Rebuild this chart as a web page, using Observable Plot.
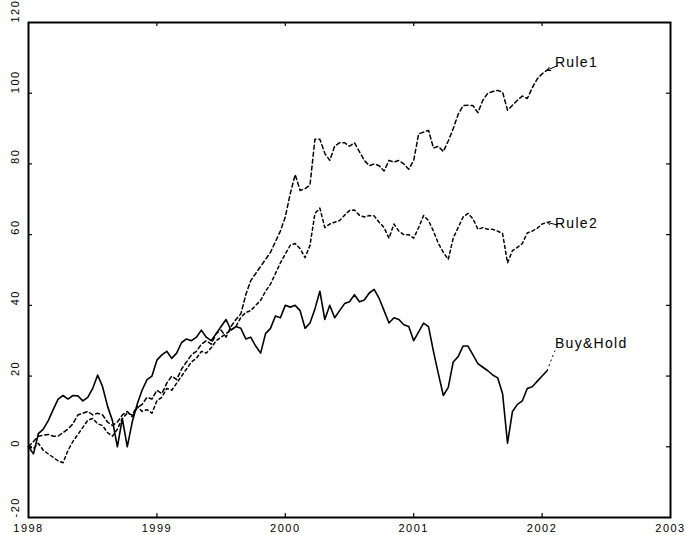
<!DOCTYPE html>
<html><head><meta charset="utf-8">
<script src="https://cdn.jsdelivr.net/npm/d3@7"></script>
<script src="https://cdn.jsdelivr.net/npm/@observablehq/plot@0.6"></script>
<style>
body{margin:0;background:#fff}
svg{font-family:"Liberation Sans",Arial,sans-serif}
</style>
</head><body><div id="chart"></div>
<script>
// biweekly observations starting at 1998.0
const startYear = 1998;
const stepYears = 1 / 26;
const seriesNames = ["Buy&Hold", "Rule1", "Rule2"];
const buyHold = [0,-2,3.7,5,7.4,10.5,13.5,14.5,13.5,14.5,14.4,13,14,16.5,20.3,17,11.5,7.4,0,8,0,7,12,16,19,20,24.5,26,27,25,26.5,29.5,30.5,30,31,33,31,30,32,34,36,33,34,33.5,30.5,31,28.5,26.5,32,33.5,37,36.5,40,39.5,40,38.5,33.5,35,39,44,36,40,36.5,38.5,40.5,41,43,41,41.5,43.5,44.5,42,38.5,35,36.5,36,34.5,34,30,32.5,35,34,27,20.6,14.5,16.8,24,25.5,28.5,28.5,26,23.5,22.5,21.5,20.3,19.5,15,1,10,12,13,16.5,17,18.5,20,21.5];
const rule1 = [0,1.5,3,3.3,3.5,3,3,4,5,6.5,9,9.5,10,9,9.5,9,7,6,7,9,10,8.5,11,12,14,13.5,16,15,18,20,19,22,24,26,27,29,30,29,32,33,31,34,36,37.6,43,47,49,51,53,55,58,61,65,71.6,77,72.5,73,74,87,87,83,81,85,86,86,85,86,83.5,81,79.5,80,79.5,78,81,80.5,81,80,78.5,81,88.5,89,89.5,84.5,85,83.5,86.5,90,94,96.5,96.6,96.5,94.5,98,100,100.5,100.8,100.3,95.2,96.6,98,99.2,98.5,101.5,104,105.5,106.5];
const rule2 = [0,-0.5,1,-1,-2,-3,-4,-4.5,-1,1.5,3.5,5.5,7.5,8,6.5,6,4,3,5,8,9.5,9,11.5,10,10.5,9.5,13,14,16.5,16,18,20,22,24,25,27,26.5,28,30,31,32,33,34,36.6,38,38.5,40,41.4,44,46,49,52,54.5,57,57.5,56,53.5,57,66,67.5,62,63,63.5,64,65.5,66.8,67,65.5,65,65.4,65.3,63.5,62,59,63,61,60,60,59,62,65.4,64,61,57.5,55,53,59,62,65,66,64.5,61.5,62,61.5,61.5,61,60.3,52,55.5,56.4,57.5,60.5,61,61.8,63,63.5];
const xTicks = [1998, 1999, 2000, 2001, 2002, 2003];
const yTicks = [-20, 0, 20, 40, 60, 80, 100, 120];
const labelYear = 2002.1;
const labelValues = [29.2, 108.8, 63.2];

const toRows = (vals, name) => vals.map((v, i) => ({date: startYear + i * stepYears, value: v, series: name}));
const bh = toRows(buyHold, seriesNames[0]);
const r1 = toRows(rule1, seriesNames[1]);
const r2 = toRows(rule2, seriesNames[2]);
const labels = seriesNames.map((s, i) => ({date: labelYear, value: labelValues[i], text: s}));
const last = arr => arr[arr.length - 1];

const W = 684, H = 535, mL = 28, mR = 14, mT = 22, mB = 18;
const innerW = W - mL - mR, innerH = H - mT - mB;
const tickLen = 4;

const chart = Plot.plot({
  width: W, height: H,
  marginLeft: mL, marginRight: mR, marginTop: mT, marginBottom: mB,
  x: {domain: [1998, 2003], axis: null},
  y: {domain: [-20, 120], axis: null},
  marks: [
    Plot.tickX(xTicks.slice(1, -1), {x: d => d, stroke: "black", strokeWidth: 1.2, insetTop: innerH - tickLen}),
    Plot.tickX(xTicks.slice(1, -1), {x: d => d, stroke: "black", strokeWidth: 1.2, insetBottom: innerH - tickLen}),
    Plot.tickY(yTicks.slice(1, -1), {y: d => d, stroke: "black", strokeWidth: 1.2, insetRight: innerW - tickLen}),
    Plot.tickY(yTicks.slice(1, -1), {y: d => d, stroke: "black", strokeWidth: 1.2, insetLeft: innerW - tickLen}),
    Plot.line(r1, {x: "date", y: "value", stroke: "black", strokeWidth: 1.5, strokeDasharray: "4,3"}),
    Plot.line(r2, {x: "date", y: "value", stroke: "black", strokeWidth: 1.5, strokeDasharray: "3,3"}),
    Plot.line(bh, {x: "date", y: "value", stroke: "black", strokeWidth: 1.6}),
    Plot.arrow([0], {x1: labelYear + 0.02, y1: labelValues[1] - 1, x2: last(r1).date, y2: last(r1).value, stroke: "black", strokeWidth: 1, headLength: 7}),
    Plot.arrow([0], {x1: labelYear + 0.02, y1: labelValues[2] - 0.5, x2: last(r2).date, y2: last(r2).value, stroke: "black", strokeWidth: 1, headLength: 7}),
    Plot.link([0], {x1: last(bh).date, y1: last(bh).value, x2: labelYear, y2: labelValues[0] - 2, stroke: "black", strokeWidth: 1, strokeDasharray: "2,3"}),
    Plot.text(labels, {x: "date", y: "value", text: "text", textAnchor: "start", fontSize: 14, fill: "black"}),
    Plot.text(xTicks, {x: d => d, text: d => String(d), frameAnchor: "bottom", dy: 14, fontSize: 11, fill: "black"}),
    Plot.text(yTicks, {y: d => d, text: d => String(d), frameAnchor: "left", dx: -13, rotate: -90, fontSize: 11, fill: "black"}),
    Plot.frame({stroke: "black", strokeWidth: 2})
  ]
});
d3.select(chart).selectAll("text").each(function() {
  const fs = this.parentNode.getAttribute("font-size");
  d3.select(this).attr("letter-spacing", fs === "14" ? "1.3px" : "1.5px");
});
document.getElementById("chart").appendChild(chart);
</script>
</body></html>
